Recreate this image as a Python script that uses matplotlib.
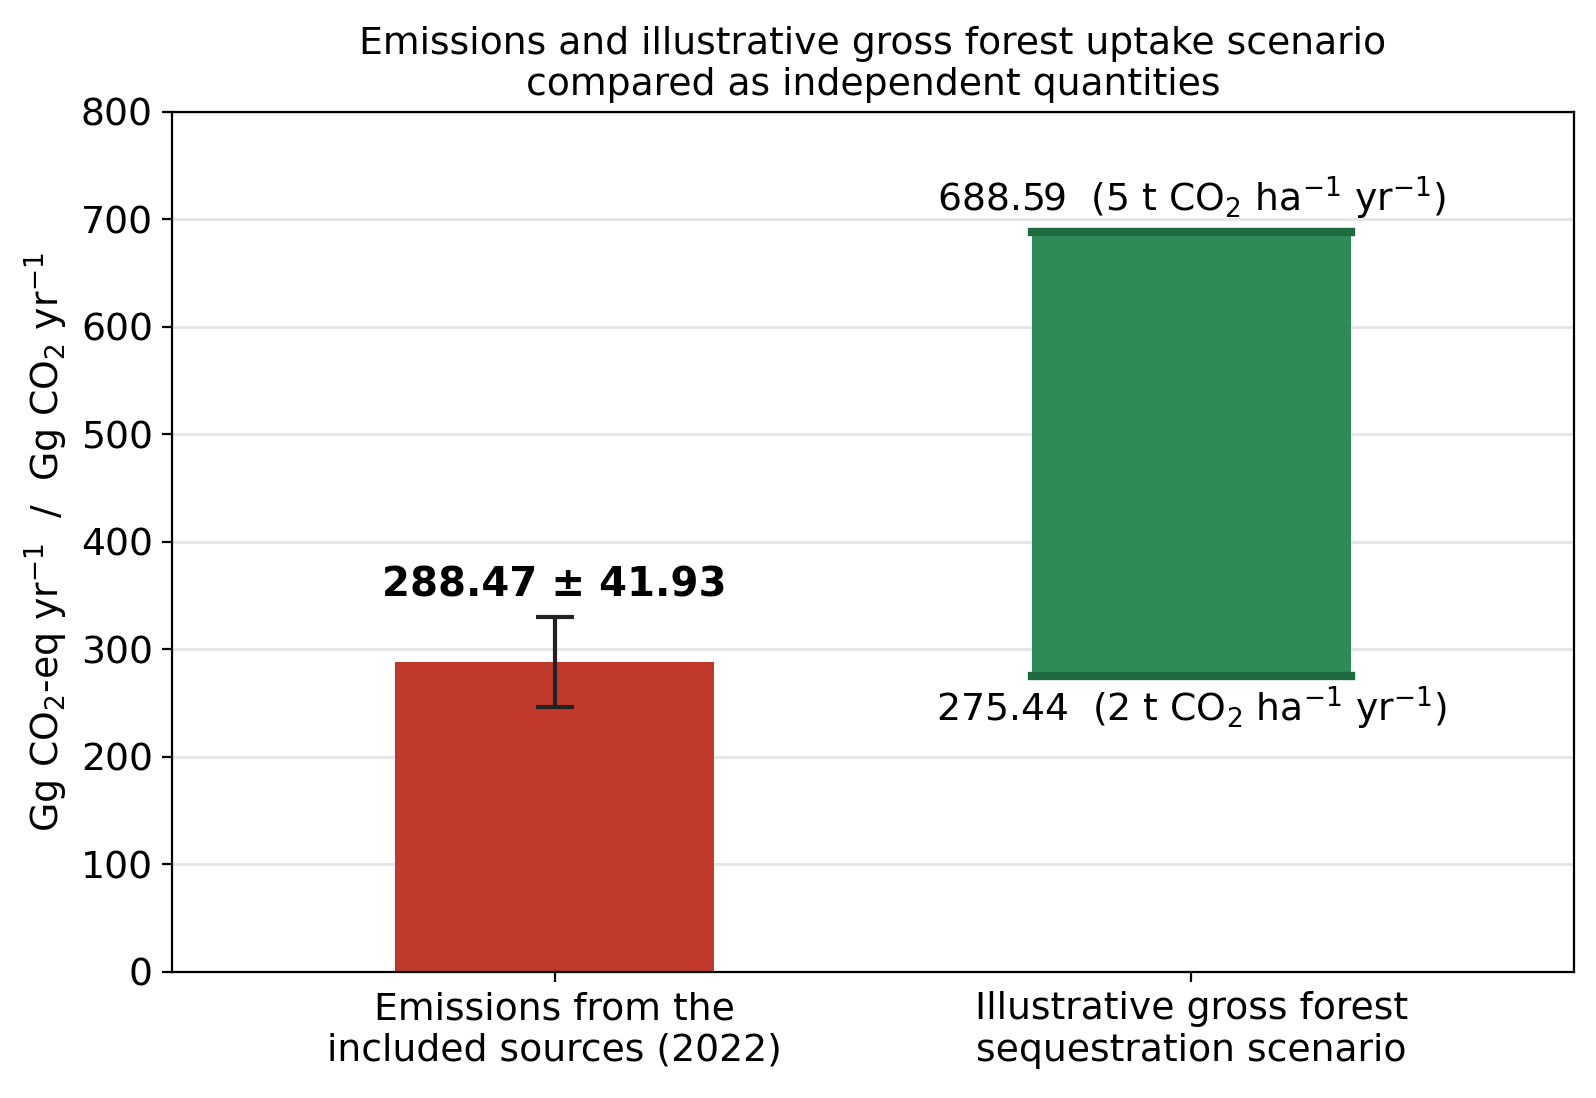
import matplotlib
matplotlib.use("Agg")
import matplotlib.pyplot as plt
import numpy as np

categories = ["Emissions from the\nincluded sources (2022)",
              "Illustrative gross forest\nsequestration scenario"]
emissions = 288.47
emissions_err = 41.93
uptake_low = 275.44
uptake_high = 688.59
low_label = r"275.44  (2 t CO$_2$ ha$^{-1}$ yr$^{-1}$)"
high_label = r"688.59  (5 t CO$_2$ ha$^{-1}$ yr$^{-1}$)"
yticks = [0, 100, 200, 300, 400, 500, 600, 700, 800]

red = "#c0392b"
green = "#2e8b57"
dark_green = "#1e6b3f"

fig, ax = plt.subplots(figsize=(7.98, 5.49), dpi=200)
fig.subplots_adjust(left=0.108, right=0.986, top=0.898, bottom=0.115)

x = np.arange(len(categories))
width = 0.5

ax.bar(x[0], emissions, width=width, color=red, zorder=2)
ax.errorbar(x[0], emissions, yerr=emissions_err, fmt="none", ecolor="#222222",
            elinewidth=1.5, capsize=7, capthick=1.5, zorder=3)
ax.text(x[0], emissions + emissions_err + 10, f"{emissions:.2f} ± {emissions_err:.2f}",
        ha="center", va="bottom", fontsize=14.5, fontweight="bold")

ax.bar(x[1], uptake_high - uptake_low, bottom=uptake_low, width=width, color=green, zorder=2)
for val in (uptake_low, uptake_high):
    ax.plot([x[1] - width / 2, x[1] + width / 2], [val, val], color=dark_green, lw=3, zorder=3)
ax.text(x[1], uptake_high + 9, high_label, ha="center", va="bottom", fontsize=13.6)
ax.text(x[1], uptake_low - 8, low_label, ha="center", va="top", fontsize=13.6)

ax.set_xlim(-0.6, 1.6)
ax.set_ylim(0, 800)
ax.set_yticks(yticks)
ax.set_xticks(x)
ax.set_xticklabels(categories, fontsize=13.6)
ax.tick_params(axis="y", labelsize=13.6)
ax.yaxis.grid(True, color="#e5e5e5", linewidth=1, zorder=0)
ax.set_axisbelow(True)
ax.set_ylabel(r"Gg CO$_2$-eq yr$^{-1}$  /  Gg CO$_2$ yr$^{-1}$", fontsize=13.6)
ax.set_title("Emissions and illustrative gross forest uptake scenario\ncompared as independent quantities",
             fontsize=13.6)

fig.savefig("out.png", dpi=200)
